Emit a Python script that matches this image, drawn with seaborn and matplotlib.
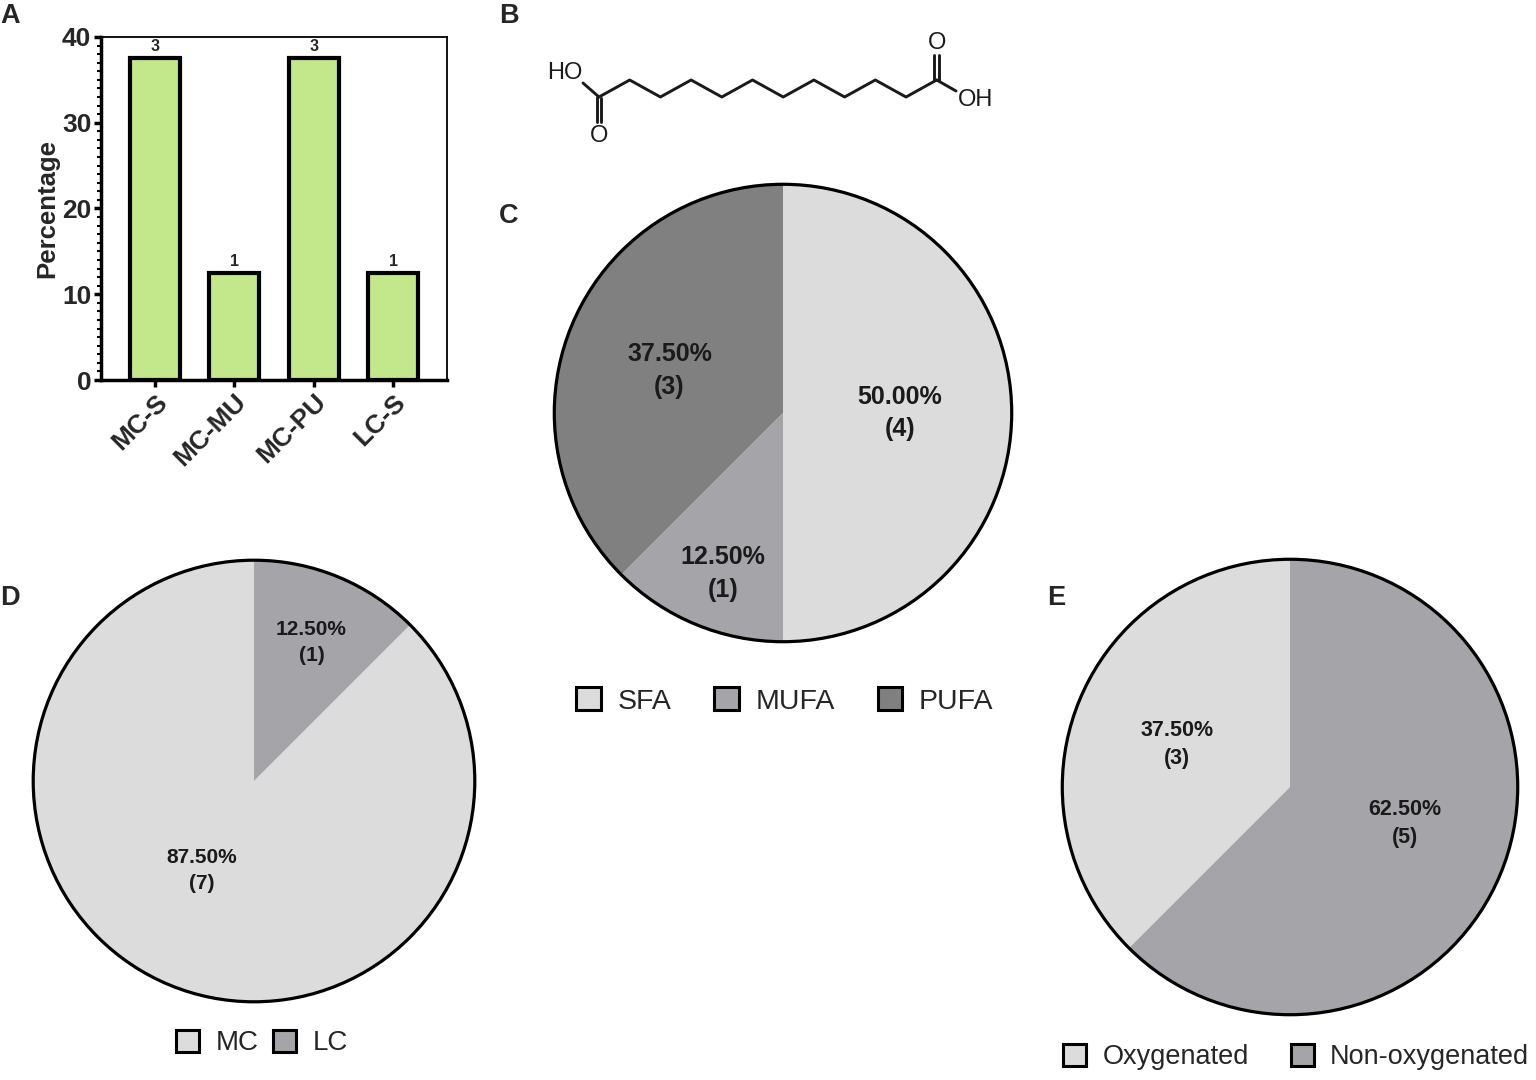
import numpy as np
import pandas as pd
import matplotlib
matplotlib.use("Agg")
import matplotlib.pyplot as plt
import seaborn as sns
from matplotlib.patches import Patch, Circle
from matplotlib.ticker import MultipleLocator

# ---------------- data ----------------
bar_categories = ["MC-S", "MC-MU", "MC-PU", "LC-S"]
bar_percent = [37.5, 12.5, 37.5, 12.5]
bar_counts = [3, 1, 3, 1]

c_labels = ["SFA", "MUFA", "PUFA"]
c_counts = [4, 1, 3]
d_labels = ["MC", "LC"]
d_counts = [7, 1]
e_labels = ["Oxygenated", "Non-oxygenated"]
e_counts = [3, 5]

# ---------------- style ----------------
sns.set_theme(style="white")
plt.rcParams['font.family'] = ['Liberation Sans', 'DejaVu Sans']

W, H = 1536, 1080
fig = plt.figure(figsize=(W / 100, H / 100), dpi=100)
fig.patch.set_facecolor("white")


def px_axes(x0, y0, x1, y1, **kw):
    return fig.add_axes([x0 / W, 1 - y1 / H, (x1 - x0) / W, (y1 - y0) / H], **kw)


# ---------------- overlay axes (panel letters + structure) ----------------
ov = px_axes(0, 0, W, H, zorder=-1)
ov.set_xlim(0, W)
ov.set_ylim(H, 0)
ov.axis("off")

for letter, (lx, ly) in {"A": (0, 16), "B": (499, 16), "C": (499, 216),
                         "D": (0, 598), "E": (1047, 598)}.items():
    ov.text(lx, ly, letter, fontsize=19.5, fontweight="bold", ha="left", va="center")

# dodecanedioic acid skeleton (12 carbons zigzag)
n_c = 12
cx0, step, y_lo, y_hi = 599, 30.7, 97, 80
xs = [cx0 + i * step for i in range(n_c)]
ys = [y_lo if i % 2 == 0 else y_hi for i in range(n_c)]
tc = "#1a1a1a"
lk = dict(color=tc, lw=2.1, solid_capstyle="round", solid_joinstyle="round")
ov.plot(xs, ys, **lk)
# left carboxyl
ov.plot([xs[0], 583], [ys[0], 83], **lk)
ov.plot([xs[0] - 2.4, xs[0] - 2.4], [ys[0], 122], **lk)
ov.plot([xs[0] + 2.4, xs[0] + 2.4], [ys[0] + 1, 122], **lk)
ov.text(565, 73, "HO", fontsize=17, ha="center", va="center", color=tc)
ov.text(xs[0], 136, "O", fontsize=17, ha="center", va="center", color=tc)
# right carboxyl
xr, yr = xs[-1], ys[-1]
ov.plot([xr - 2.4, xr - 2.4], [yr, 55], **lk)
ov.plot([xr + 2.4, xr + 2.4], [yr, 55], **lk)
ov.plot([xr, 956], [yr, 91], **lk)
ov.text(xr, 43, "O", fontsize=17, ha="center", va="center", color=tc)
ov.text(976, 100, "OH", fontsize=17, ha="center", va="center", color=tc)

# ---------------- panel A: bar chart ----------------
axA = px_axes(101, 37, 447, 380)
dfA = pd.DataFrame({"cat": bar_categories, "pct": bar_percent})
sns.barplot(data=dfA, x="cat", y="pct", ax=axA, color="#C3E88C",
            edgecolor="black", linewidth=3.0, width=0.63, saturation=1)
axA.bar_label(axA.containers[0], labels=[str(c) for c in bar_counts],
              padding=3, fontsize=11.5, fontweight="bold")
axA.set_xlim(-0.68, 3.68)
axA.set_ylim(0, 40)
axA.set_yticks([0, 10, 20, 30, 40])
axA.yaxis.set_minor_locator(MultipleLocator(1))
axA.set_xlabel("")
axA.set_ylabel("Percentage", fontsize=18.5, fontweight="bold", labelpad=2)
axA.tick_params(axis="both", which="major", direction="out", length=5, width=2.5,
                labelsize=19, bottom=True, left=True, color="black", pad=2)
axA.tick_params(axis="y", which="minor", direction="out", length=3, width=1.5,
                left=True, color="black")
for lab in axA.get_yticklabels():
    lab.set_fontweight("bold")
for lab in axA.get_xticklabels():
    lab.set_fontweight("bold")
    lab.set_rotation(45)
    lab.set_ha("right")
    lab.set_va("top")
    lab.set_rotation_mode("anchor")
for side in ["left", "bottom"]:
    axA.spines[side].set_linewidth(2.5)
    axA.spines[side].set_color("black")
for side in ["top", "right"]:
    axA.spines[side].set_linewidth(1.3)
    axA.spines[side].set_color("black")

# ---------------- pies ----------------
LIGHT, MID, DARK = "#DCDCDC", "#A4A4A9", "#808080"


def draw_pie(rect, counts, colors, counterclock, label_pos, fs, ls):
    ax = px_axes(*rect)
    wedges, _ = ax.pie(counts, colors=colors, startangle=90, counterclock=counterclock,
                       wedgeprops=dict(linewidth=0), radius=1)
    total = sum(counts)
    for w, c, (dist, dang) in zip(wedges, counts, label_pos):
        ang = np.deg2rad((w.theta1 + w.theta2) / 2 + dang)
        ax.text(dist * np.cos(ang), dist * np.sin(ang),
                f"{100 * c / total:.2f}%\n({c})", ha="center", va="center",
                fontsize=fs, fontweight="bold", color="#1a1a1a", linespacing=ls)
    ax.add_patch(Circle((0, 0), 1, fill=False, lw=2.3, ec="black"))
    ax.set_xlim(-1.01, 1.01)
    ax.set_ylim(-1.01, 1.01)
    ax.set_aspect("equal")
    return ax


def draw_legend(labels, colors, cx, cy, fs, colspace):
    handles = [Patch(facecolor=c, edgecolor="black", linewidth=2.2) for c in colors]
    fig.legend(handles, labels, loc="center", bbox_to_anchor=(cx / W, 1 - cy / H),
               ncol=len(labels), frameon=False, fontsize=fs, handlelength=0.85,
               handleheight=0.85, handletextpad=0.6, columnspacing=colspace,
               borderaxespad=0, borderpad=0)


# panel C
draw_pie((552, 182, 1014, 644), c_counts, [LIGHT, MID, DARK], False,
         [(0.51, 0), (0.75, 2), (0.53, 2)], 18, 1.45)
draw_legend(c_labels, [LIGHT, MID, DARK], 785, 701, 20.5, 1.5)

# panel E
draw_pie((1060, 557, 1520, 1017), e_counts, [LIGHT, MID], True,
         [(0.53, 2), (0.53, 5)], 15.5, 1.45)
draw_legend(e_labels, [LIGHT, MID], 1296, 1057, 19.5, 1.55)

# panel D
draw_pie((31, 558, 477, 1004), d_counts, [LIGHT, MID], True,
         [(0.47, -8), (0.68, 0)], 15, 1.5)
draw_legend(d_labels, [LIGHT, MID], 262, 1043, 20, 0.5)

fig.savefig("out.png", dpi=100, facecolor="white")
